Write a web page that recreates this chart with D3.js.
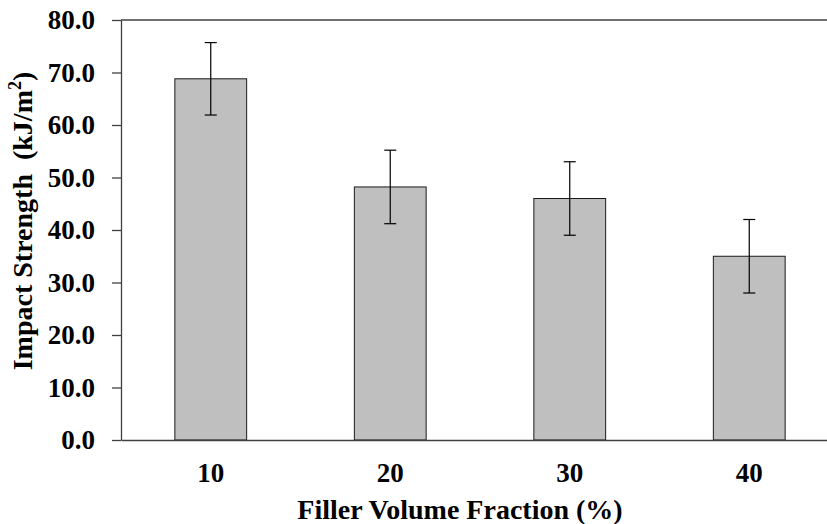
<!DOCTYPE html>
<html>
<head>
<meta charset="utf-8">
<script src="https://cdn.jsdelivr.net/npm/d3@7"></script>
<style>
  body { margin: 0; background: #fff; }
  svg { display: block; font-family: "Liberation Serif", "Times New Roman", serif; }
  .tick text { font-size: 27px; font-weight: bold; fill: #000; }
</style>
</head>
<body>
<svg id="chart"></svg>
<script>
const fractions = ["10", "20", "30", "40"];
const strength = [68.8, 48.2, 46.0, 35.0];
const errors = [6.9, 7.0, 7.0, 7.0];
const yTicks = [0, 10, 20, 30, 40, 50, 60, 70, 80];

const width = 827, height = 524;
const margin = { top: 20, right: -12, bottom: 84, left: 121 };
const innerW = width - margin.left - margin.right;
const innerH = height - margin.top - margin.bottom;
const fontFamily = '"Liberation Serif", "Times New Roman", serif';

const svg = d3.select("#chart").attr("width", width).attr("height", height);
const g = svg.append("g").attr("transform", `translate(${margin.left},${margin.top})`);

const x = d3.scaleBand().domain(fractions).range([0, innerW]).paddingInner(0.6).paddingOuter(0.3);
const y = d3.scaleLinear().domain([0, 80]).range([innerH, 0]);

const axisColor = "#404040";

// top border of the plot area
g.append("line")
  .attr("x1", 0).attr("x2", innerW)
  .attr("y1", y(80)).attr("y2", y(80))
  .attr("stroke", axisColor).attr("stroke-width", 1.3);

// bars
g.selectAll(".bar")
  .data(strength)
  .join("rect")
  .attr("class", "bar")
  .attr("x", (d, i) => x(fractions[i]))
  .attr("y", d => y(d))
  .attr("width", x.bandwidth())
  .attr("height", d => y(0) - y(d))
  .attr("fill", "#bfbfbf")
  .attr("stroke", "#1a1a1a")
  .attr("stroke-width", 1);

// error bars
const errG = g.selectAll(".err")
  .data(strength)
  .join("g")
  .attr("class", "err")
  .attr("transform", (d, i) => `translate(${x(fractions[i]) + x.bandwidth() / 2},0)`);

errG.append("line")
  .attr("y1", (d, i) => y(d + errors[i]))
  .attr("y2", (d, i) => y(d - errors[i]))
  .attr("stroke", "#000").attr("stroke-width", 1.2);
errG.append("line")
  .attr("x1", -6).attr("x2", 6)
  .attr("y1", (d, i) => y(d + errors[i])).attr("y2", (d, i) => y(d + errors[i]))
  .attr("stroke", "#000").attr("stroke-width", 1.2);
errG.append("line")
  .attr("x1", -6).attr("x2", 6)
  .attr("y1", (d, i) => y(d - errors[i])).attr("y2", (d, i) => y(d - errors[i]))
  .attr("stroke", "#000").attr("stroke-width", 1.2);

// axes
const yAxisG = g.append("g")
  .call(d3.axisLeft(y).tickValues(yTicks).tickFormat(d3.format(".1f")).tickSize(9).tickSizeOuter(0).tickPadding(17))
  .attr("font-family", fontFamily);
yAxisG.selectAll("line, path").attr("stroke", axisColor).attr("stroke-width", 1.3);

const xAxisG = g.append("g")
  .attr("transform", `translate(0,${innerH})`)
  .call(d3.axisBottom(x).tickSize(0).tickPadding(23))
  .attr("font-family", fontFamily);
xAxisG.selectAll("path").attr("stroke", axisColor).attr("stroke-width", 1.3);

// titles
svg.append("text")
  .attr("x", 460).attr("y", 519)
  .attr("text-anchor", "middle")
  .attr("font-size", 28).attr("font-weight", "bold")
  .text("Filler Volume Fraction (%)");

const yTitle = svg.append("text")
  .attr("transform", "translate(32,221) rotate(-90)")
  .attr("text-anchor", "middle")
  .attr("font-size", 28).attr("font-weight", "bold");
yTitle.append("tspan").text("Impact Strength\u00a0\u00a0(kJ/m");
yTitle.append("tspan").attr("font-size", 18).attr("dy", -11).text("2");
yTitle.append("tspan").attr("dy", 11).text(")");
</script>
</body>
</html>
